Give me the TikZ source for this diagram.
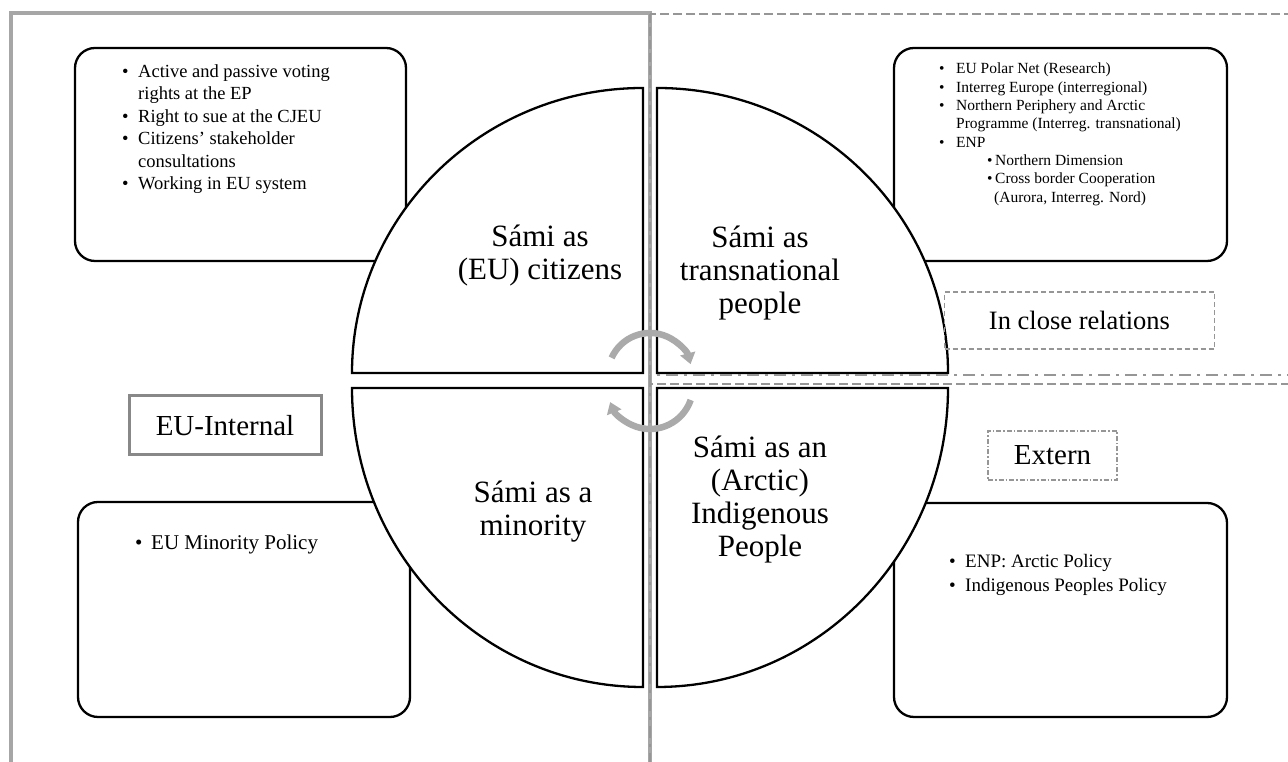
\documentclass[tikz,border=0pt]{standalone}
\usepackage{fontspec}
\setmainfont{Liberation Serif}
\usetikzlibrary{arrows.meta}
\definecolor{framegray}{RGB}{166,166,166}
\definecolor{dashgray}{RGB}{150,150,150}
\definecolor{taggray}{RGB}{136,136,136}
\definecolor{arrowgray}{RGB}{170,170,170}
\newcommand{\bul}[1]{\makebox[#1][l]{\textbullet}}
\tikzset{
  quarter/.style ={draw=black, line width=2.3pt, fill=white},
  qtext/.style   ={align=center, font=\fontsize{31}{33}\selectfont},
  infobox/.style ={draw=black, line width=2.3pt, rounded corners=20pt, inner sep=0pt},
  listtxt/.style ={align=left, anchor=north west, inner sep=0pt},
  tagint/.style  ={draw=taggray, line width=3pt, font=\fontsize{29}{31}\selectfont},
  tagclose/.style={draw=dashgray, line width=1.5pt, dash pattern=on 5pt off 3pt,
                   font=\fontsize{26.5}{28}\selectfont},
  tagext/.style  ={draw=dashgray, line width=1.2pt, dash pattern=on 5pt off 2pt on 1.5pt off 2pt,
                   font=\fontsize{29}{31}\selectfont},
  frameint/.style  ={draw=framegray, line width=4.5pt},
  frameclose/.style={draw=dashgray, line width=2.5pt, dash pattern=on 9pt off 4pt},
  frameext/.style  ={draw=dashgray, line width=2.5pt, dash pattern=on 12pt off 6pt on 3pt off 6pt},
  cycarrow/.style  ={draw=arrowgray, line width=6.5pt, -{Triangle[length=11pt,width=15pt]}},
}
\begin{document}
\begin{tikzpicture}[x=1pt, y=1pt]
\useasboundingbox (0,0) rectangle (1288,762);
\clip (0,0) rectangle (1288,762);
% policy boxes
\node[infobox, minimum width=331pt, minimum height=213pt] (boxcit) at (240.5,607.5) {};
\node[infobox, minimum width=333pt, minimum height=213pt] (boxtrans) at (1060.5,607.5) {};
\node[infobox, minimum width=332pt, minimum height=215pt] (boxmin) at (244,152.5) {};
\node[infobox, minimum width=333pt, minimum height=214pt] (boxind) at (1060.5,152) {};
% the four quarters
\draw[quarter] (643,389) -- (352,389) arc[start angle=180, end angle=90, x radius=291, y radius=285] -- cycle;
\draw[quarter] (657,389) -- (657,674) arc[start angle=90, end angle=0, x radius=291, y radius=285] -- cycle;
\draw[quarter] (643,374) -- (352,374) arc[start angle=180, end angle=270, x radius=291, y radius=299] -- cycle;
\draw[quarter] (657,374) -- (948,374) arc[start angle=0, end angle=-90, x radius=291, y radius=299] -- cycle;
\node[qtext] (qcit) at (540,506) {Sámi as\\(EU) citizens};
\node[qtext] (qtrans) at (760,489) {Sámi as\\transnational\\people};
\node[qtext] (qmin) at (533,250) {Sámi as a\\minority};
\node[qtext] (qind) at (760,262) {Sámi as an\\(Arctic)\\Indigenous\\People};
% lists
\node[listtxt, font=\fontsize{18.5}{22.5}\selectfont] (listcit) at (122,698)
  {\bul{16pt}Active and passive voting\\ \hspace*{16pt}rights at the EP\\ \bul{16pt}Right to sue at the CJEU\\
   \bul{16pt}Citizens’ stakeholder\\ \hspace*{16pt}consultations\\ \bul{16pt}Working in EU system};
\node[listtxt, font=\fontsize{15.5}{18.3}\selectfont] (listtrans) at (939,699)
  {\bul{17pt}EU Polar Net (Research)\\ \bul{17pt}Interreg Europe (interregional)\\
   \bul{17pt}Northern Periphery and Arctic\\ \hspace*{17pt}Programme (Interreg. transnational)\\ \bul{17pt}ENP\\
   \hspace*{48pt}\textbullet\,Northern Dimension\\ \hspace*{48pt}\textbullet\,Cross border Cooperation\\
   \hspace*{55pt}(Aurora, Interreg. Nord)};
\node[listtxt, font=\fontsize{21}{25}\selectfont] (listmin) at (135,227) {\bul{16pt}EU Minority Policy};
\node[listtxt, font=\fontsize{19}{24}\selectfont] (listind) at (949,208)
  {\bul{16pt}ENP: Arctic Policy\\ \bul{16pt}Indigenous Peoples Policy};
% frames
\draw[frameint] (11,749) rectangle (650,-20);
\draw[frameclose] (650,748) rectangle (1310,378);
\draw[frameext] (650,387) rectangle (1310,-20);
% tags
\node[tagint, minimum width=192pt, minimum height=59pt] (tint) at (225,336.5) {EU-Internal};
\node[tagclose, minimum width=270pt, minimum height=57pt] (tclose) at (1079.5,441.5) {In close relations};
\node[tagext, minimum width=129pt, minimum height=49pt] (text) at (1052.5,306.5) {Extern};
% cycle arrows
\draw[cycarrow] ([shift={(156:42pt)}]650,387) arc[start angle=156, end angle=15, radius=42pt];
\draw[cycarrow] ([shift={(-19:43pt)}]650,376) arc[start angle=-19, end angle=-158, radius=43pt];
\end{tikzpicture}
\end{document}
